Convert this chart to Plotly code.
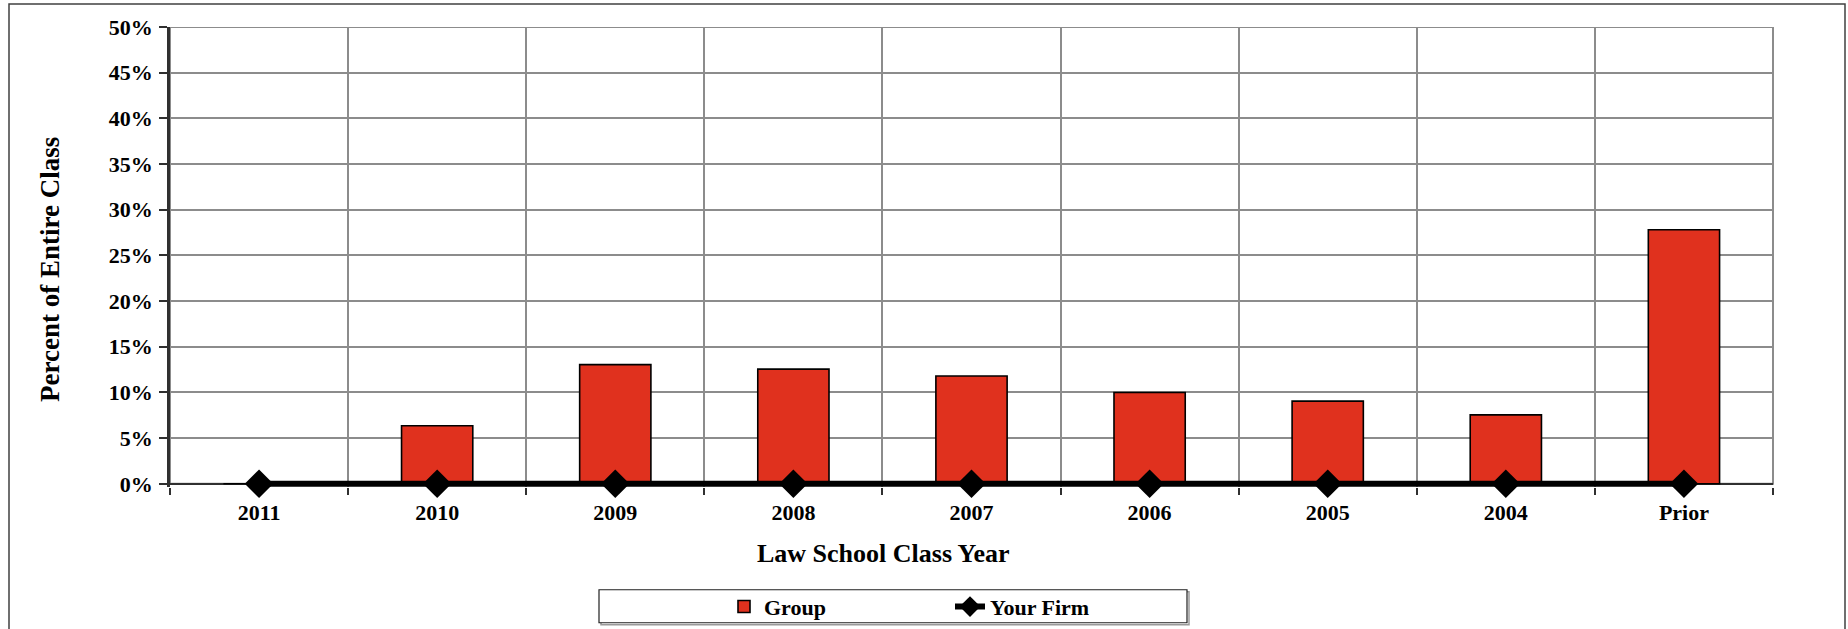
import plotly.graph_objects as go

categories = ["2011", "2010", "2009", "2008", "2007", "2006", "2005", "2004", "Prior"]
group_values = [0, 6.35, 13.05, 12.55, 11.8, 10.0, 9.05, 7.55, 27.8]
firm_values = [0, 0, 0, 0, 0, 0, 0, 0, 0]
y_ticks = [0, 5, 10, 15, 20, 25, 30, 35, 40, 45, 50]
y_tick_labels = ["0%", "5%", "10%", "15%", "20%", "25%", "30%", "35%", "40%", "45%", "50%"]

W, H = 1848, 629
Y_MIN = -0.35
L, R, T, B0 = 170, 1773, 27, 484          # B0 = pixel of 0%
per = (B0 - T) / 50.0                      # pixels per percent
B = B0 - Y_MIN * per                       # bottom of plot area (slightly below 0%)
pw, ph = R - L, B - T


def px(x):
    return (x - L) / pw


def py(y):
    return (B - y) / ph


FONT = "Liberation Serif"

fig = go.Figure()
fig.add_trace(go.Bar(
    x=categories, y=group_values, name="Group",
    marker=dict(color="#E0311E", line=dict(color="#000000", width=1.6)),
    width=0.4, legend="legend",
))
fig.add_trace(go.Scatter(
    x=categories, y=firm_values, name="Your Firm", mode="lines+markers",
    line=dict(color="#000000", width=6),
    marker=dict(symbol="diamond", size=22, color="#000000"),
    cliponaxis=False, legend="legend2",
))

shapes = [
    # plot frame (gray)
    dict(type="rect", xref="paper", yref="y", x0=0, x1=1, y0=0, y1=50,
         line=dict(color="#8c8c8c", width=2), layer="below"),
    # outer chart border
    dict(type="rect", xref="paper", yref="paper", x0=px(9), x1=px(1845), y0=py(660), y1=py(4),
         line=dict(color="#404040", width=1.5), layer="below"),
    # legend box shadow
    dict(type="rect", xref="paper", yref="paper", x0=px(601), x1=px(1189), y0=py(625), y1=py(592),
         line=dict(color="#9a9a9a", width=1.5), layer="below"),
    # legend box
    dict(type="rect", xref="paper", yref="paper", x0=px(599), x1=px(1187), y0=py(623), y1=py(590),
         line=dict(color="#202020", width=1.2), fillcolor="#ffffff", layer="below"),
]

annotations = [
    dict(text="<b>Law School Class Year</b>", xref="paper", yref="paper",
         x=px(883), y=py(554), xanchor="center", yanchor="middle", showarrow=False,
         font=dict(family=FONT, size=26, color="#000000")),
    dict(text="<b>Percent of Entire Class</b>", xref="paper", yref="paper",
         x=px(50), y=py(270), xanchor="center", yanchor="middle", showarrow=False,
         textangle=-90, font=dict(family=FONT, size=27, color="#000000")),
]

fig.update_layout(
    width=W, height=H,
    margin=dict(l=L, r=W - R, t=T, b=H - B, pad=0, autoexpand=False),
    plot_bgcolor="#ffffff", paper_bgcolor="#ffffff",
    bargap=0.6,
    shapes=shapes, annotations=annotations,
    showlegend=True,
    legend=dict(orientation="h", x=px(724), y=py(607), xanchor="left", yanchor="middle",
                bgcolor="rgba(0,0,0,0)", borderwidth=0,
                font=dict(family=FONT, size=22, color="#000000", weight="bold")),
    legend2=dict(orientation="h", x=px(950), y=py(607), xanchor="left", yanchor="middle",
                 bgcolor="rgba(0,0,0,0)", borderwidth=0,
                 font=dict(family=FONT, size=22, color="#000000", weight="bold")),
    xaxis=dict(
        type="category", categoryorder="array", categoryarray=categories,
        range=[-0.5, len(categories) - 0.5],
        tickson="boundaries", ticks="outside", ticklen=7, tickwidth=1.5, tickcolor="#303030",
        showgrid=True, gridcolor="#8c8c8c", gridwidth=2,
        showline=False,
        ticklabelstandoff=10,
        tickfont=dict(family=FONT, size=22, color="#000000", weight="bold"),
        fixedrange=True,
    ),
    yaxis=dict(
        range=[Y_MIN, 50], tickvals=y_ticks, ticktext=y_tick_labels,
        ticks="outside", ticklen=8, tickwidth=1.5, tickcolor="#303030",
        showgrid=True, gridcolor="#8c8c8c", gridwidth=2,
        zeroline=True, zerolinecolor="#303030", zerolinewidth=1.5,
        showline=True, linecolor="#303030", linewidth=2.5,
        ticklabelstandoff=2,
        tickfont=dict(family=FONT, size=22, color="#000000", weight="bold"),
        fixedrange=True,
    ),
)

fig.write_html(
    "out.html",
    config={"displayModeBar": False},
    post_script="document.body.style.margin='0';document.body.style.overflow='hidden';",
)
